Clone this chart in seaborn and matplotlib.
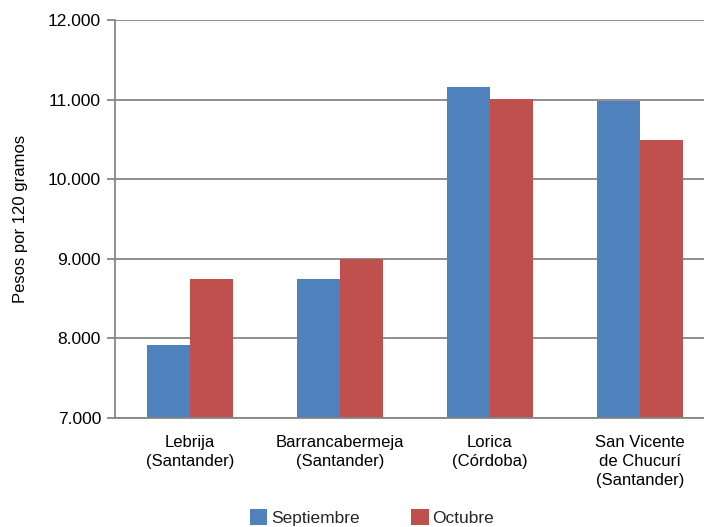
import matplotlib
matplotlib.use("Agg")
import matplotlib.pyplot as plt
import seaborn as sns
import pandas as pd
from matplotlib.ticker import FuncFormatter

categories = ["Lebrija\n(Santander)", "Barrancabermeja\n(Santander)", "Lorica\n(Córdoba)",
              "San Vicente\nde Chucurí\n(Santander)"]
septiembre = [7920, 8740, 11160, 10980]
octubre = [8750, 9000, 11010, 10490]
series_names = ["Septiembre", "Octubre"]
colors = ["#4F81BD", "#C0504D"]

df = pd.DataFrame({
    "cat": categories * 2,
    "serie": [series_names[0]] * 4 + [series_names[1]] * 4,
    "val": septiembre + octubre,
})

sns.set_theme(style="white")
plt.rcParams["font.family"] = ["Liberation Sans", "DejaVu Sans"]

fig = plt.figure(figsize=(7.04, 5.27), dpi=100)
ax = fig.add_axes([115 / 704, 1 - 418 / 527, 600 / 704, (418 - 20) / 527])

sns.barplot(data=df, x="cat", y="val", hue="serie", palette=colors, width=0.573,
            ax=ax, saturation=1, legend=True, linewidth=0)

ax.set_ylim(7000, 12000)
ax.set_yticks([7000, 8000, 9000, 10000, 11000, 12000])
ax.yaxis.set_major_formatter(FuncFormatter(lambda v, p: f"{int(v):,}".replace(",", ".")))
ax.yaxis.grid(True, color="#868686", linewidth=1.3)
ax.set_axisbelow(True)
for s in ["top", "right"]:
    ax.spines[s].set_visible(False)
for s in ["left", "bottom"]:
    ax.spines[s].set_color("#868686")
    ax.spines[s].set_linewidth(1.3)
ax.tick_params(axis="y", which="both", left=True, length=6, width=1.3, color="#868686",
               labelsize=12.5, labelcolor="black", pad=4)
ax.tick_params(axis="x", bottom=False, labelsize=12, labelcolor="black", pad=6)
for t in ax.get_xticklabels():
    t.set_linespacing(1.35)
ax.set_xlabel("")
ax.set_ylabel("Pesos por 120 gramos", fontsize=12, color="black")
ax.yaxis.set_label_coords(-87 / 600, 0.5)

leg = ax.legend(loc="lower center", bbox_to_anchor=(372 / 704, 1 / 527),
                bbox_transform=fig.transFigure, ncol=2, frameon=False, fontsize=12.5,
                handlelength=1.0, handleheight=1.0, handletextpad=0.2, columnspacing=3.0,
                borderaxespad=0, borderpad=0)

fig.savefig("out.png", dpi=100)
